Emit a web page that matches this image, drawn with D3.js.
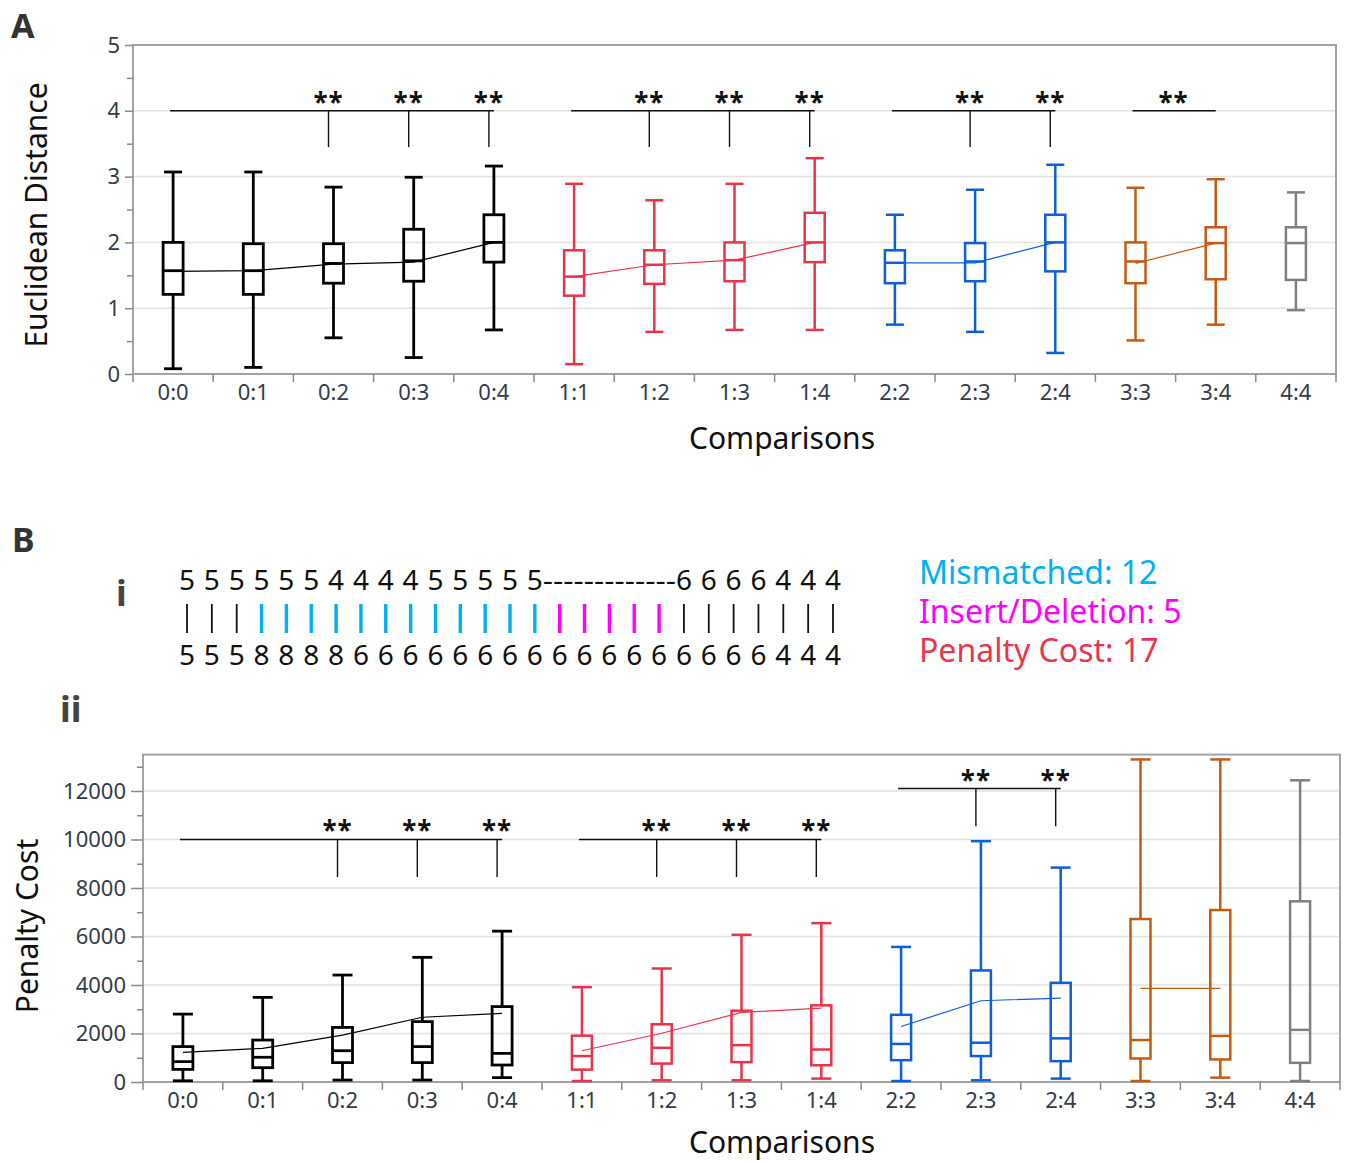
<!DOCTYPE html>
<html>
<head>
<meta charset="utf-8">
<script src="https://cdn.jsdelivr.net/npm/d3@7"></script>
<style>
  body { margin: 0; background: #fff; }
  text { font-family: "Noto Sans", "Open Sans", sans-serif; }
</style>
</head>
<body>
<script>
// categories and groups
var comparisons = ["0:0", "0:1", "0:2", "0:3", "0:4", "1:1", "1:2", "1:3", "1:4", "2:2", "2:3", "2:4", "3:3", "3:4", "4:4"];
var groupOf = [0, 0, 0, 0, 0, 1, 1, 1, 1, 2, 2, 2, 3, 3, 4];
var groupColors = ["#000000", "#e8344a", "#0b5fd8", "#c55a11", "#808080"];

// panel A: euclidean distance (whisker low, q1, median, q3, whisker high, mean)
var eucLow  = [0.08, 0.10, 0.55, 0.25, 0.67, 0.15, 0.64, 0.67, 0.67, 0.75, 0.64, 0.32, 0.51, 0.75, 0.97];
var eucQ1   = [1.21, 1.21, 1.38, 1.41, 1.70, 1.19, 1.37, 1.41, 1.70, 1.38, 1.41, 1.56, 1.38, 1.44, 1.43];
var eucMed  = [1.57, 1.57, 1.68, 1.72, 2.00, 1.48, 1.66, 1.73, 2.00, 1.69, 1.71, 2.00, 1.71, 1.99, 1.99];
var eucQ3   = [2.00, 1.98, 1.98, 2.20, 2.42, 1.88, 1.88, 2.00, 2.45, 1.88, 1.99, 2.42, 2.00, 2.23, 2.23];
var eucHigh = [3.07, 3.07, 2.84, 2.99, 3.16, 2.89, 2.64, 2.89, 3.28, 2.42, 2.80, 3.18, 2.83, 2.96, 2.76];
var eucMean = [1.56, 1.57, 1.67, 1.70, 2.00, 1.48, 1.66, 1.73, 2.00, 1.69, 1.69, 2.00, 1.68, 1.99, null];

// panel B: penalty cost
var penLow  = [50, 50, 80, 80, 180, 40, 70, 70, 140, 40, 70, 140, 40, 180, 40];
var penQ1   = [520, 590, 800, 800, 700, 510, 760, 820, 690, 900, 1070, 860, 970, 930, 790];
var penMed  = [840, 1020, 1290, 1460, 1180, 1070, 1410, 1520, 1340, 1570, 1620, 1800, 1730, 1900, 2150];
var penQ3   = [1460, 1730, 2250, 2490, 3110, 1910, 2380, 2940, 3160, 2770, 4600, 4090, 6720, 7090, 7450];
var penHigh = [2800, 3490, 4410, 5140, 6220, 3910, 4680, 6070, 6550, 5570, 9930, 8840, 13300, 13300, 12440];
var penMean = [1220, 1390, 1930, 2670, 2830, 1290, 2010, 2870, 3050, 2290, 3350, 3460, 3860, 3860, null];

// significance brackets: first..last index, marked indices, bar level, drop level
var sigA = [
  { from: 0, to: 4, marks: [2, 3, 4], level: 4.0, drop: 3.45 },
  { from: 5, to: 8, marks: [6, 7, 8], level: 4.0, drop: 3.45 },
  { from: 9, to: 11, marks: [10, 11], level: 4.0, drop: 3.45 },
  { from: 12, to: 13, marks: [], level: 4.0, drop: 4.0 }
];
var sigB = [
  { from: 0, to: 4, marks: [2, 3, 4], level: 10000, drop: 8450 },
  { from: 5, to: 8, marks: [6, 7, 8], level: 10000, drop: 8450 },
  { from: 9, to: 11, marks: [10, 11], level: 12100, drop: 10550 }
];

// alignment example
var seqTop    = "555555444455555-----6666444";
var seqBottom = "555888866666666666666666444";

var tickColor = "#333d4a";
var svg = d3.select("body").append("svg").attr("width", 1348).attr("height", 1163);

function drawPanel(p) {
  var g = svg.append("g");
  var x = d3.scaleBand().domain(comparisons).range(p.xRange);
  var y = d3.scaleLinear().domain(p.yDomain).range(p.yRange);
  var cx = function (i) { return x(comparisons[i]) + x.bandwidth() / 2; };

  g.selectAll(".grid").data(p.grid).enter().append("line")
    .attr("x1", p.xRange[0]).attr("x2", p.xRange[1])
    .attr("y1", y).attr("y2", y)
    .attr("stroke", "#e2e2e2").attr("stroke-width", 1.5);

  g.append("rect")
    .attr("x", p.xRange[0]).attr("y", p.yRange[1])
    .attr("width", p.xRange[1] - p.xRange[0]).attr("height", p.yRange[0] - p.yRange[1])
    .attr("fill", "none").attr("stroke", "#a3a3a3").attr("stroke-width", 2);

  // y axis
  var ya = g.append("g").attr("transform", "translate(" + p.xRange[0] + ",0)")
    .call(d3.axisLeft(y).tickValues(p.major).tickSize(p.majorLen).tickPadding(p.pad).tickFormat(d3.format("d")));
  ya.select(".domain").remove();
  ya.selectAll("line").attr("stroke", "#8a8a8a").attr("stroke-width", 1.5);
  ya.selectAll("text").attr("font-size", 22).attr("fill", tickColor);

  var ym = g.append("g").attr("transform", "translate(" + p.xRange[0] + ",0)")
    .call(d3.axisLeft(y).tickValues(p.minor).tickSize(6).tickFormat(""));
  ym.select(".domain").remove();
  ym.selectAll("line").attr("stroke", "#8a8a8a").attr("stroke-width", 1.5);

  // x axis: labels at centres, ticks at band edges
  var xa = g.append("g").attr("transform", "translate(0," + p.yRange[0] + ")")
    .call(d3.axisBottom(x).tickSize(0).tickPadding(10));
  xa.select(".domain").remove();
  xa.selectAll("text").attr("font-size", 22).attr("fill", tickColor);

  var edges = comparisons.map(function (c) { return x(c); }).concat([p.xRange[1]]);
  g.selectAll(".xt").data(edges).enter().append("line")
    .attr("x1", function (d) { return d; }).attr("x2", function (d) { return d; })
    .attr("y1", p.yRange[0]).attr("y2", p.yRange[0] + 8)
    .attr("stroke", "#8a8a8a").attr("stroke-width", 1.5);

  // boxes
  var idx = d3.range(comparisons.length);
  var bw = 20, cw = p.capW;
  var box = g.selectAll(".box").data(idx).enter().append("g")
    .attr("stroke", function (i) { return groupColors[groupOf[i]]; })
    .attr("stroke-width", function (i) { return groupOf[i] === 0 ? 2.8 : 2.5; })
    .attr("fill", "none");
  box.append("line")
    .attr("x1", cx).attr("x2", cx)
    .attr("y1", function (i) { return y(p.high[i]); }).attr("y2", function (i) { return y(p.q3[i]); });
  box.append("line")
    .attr("x1", cx).attr("x2", cx)
    .attr("y1", function (i) { return y(p.q1[i]); }).attr("y2", function (i) { return y(p.low[i]); });
  box.append("line")
    .attr("x1", function (i) { return cx(i) - cw / 2; }).attr("x2", function (i) { return cx(i) + cw / 2; })
    .attr("y1", function (i) { return y(p.high[i]); }).attr("y2", function (i) { return y(p.high[i]); });
  box.append("line")
    .attr("x1", function (i) { return cx(i) - cw / 2; }).attr("x2", function (i) { return cx(i) + cw / 2; })
    .attr("y1", function (i) { return y(p.low[i]); }).attr("y2", function (i) { return y(p.low[i]); });
  box.append("rect")
    .attr("x", function (i) { return cx(i) - bw / 2; }).attr("width", bw)
    .attr("y", function (i) { return y(p.q3[i]); })
    .attr("height", function (i) { return y(p.q1[i]) - y(p.q3[i]); });
  box.append("line")
    .attr("x1", function (i) { return cx(i) - bw / 2; }).attr("x2", function (i) { return cx(i) + bw / 2; })
    .attr("y1", function (i) { return y(p.med[i]); }).attr("y2", function (i) { return y(p.med[i]); });

  // mean lines per group
  var line = d3.line().x(function (i) { return cx(i); }).y(function (i) { return y(p.mean[i]); });
  [0, 1, 2, 3].forEach(function (gi) {
    var pts = idx.filter(function (i) { return groupOf[i] === gi && p.mean[i] != null; });
    g.append("path").attr("d", line(pts))
      .attr("fill", "none").attr("stroke", groupColors[gi]).attr("stroke-width", 1.2);
  });

  // significance brackets
  p.sig.forEach(function (s) {
    g.append("line")
      .attr("x1", cx(s.from) - 3).attr("x2", cx(s.to))
      .attr("y1", y(s.level)).attr("y2", y(s.level))
      .attr("stroke", "#111").attr("stroke-width", 1.6);
    s.marks.forEach(function (m) {
      g.append("line")
        .attr("x1", cx(m) - 5).attr("x2", cx(m) - 5)
        .attr("y1", y(s.level)).attr("y2", y(s.drop))
        .attr("stroke", "#111").attr("stroke-width", 1.4);
    });
    var starsAt = s.marks.length ? s.marks.map(function (m) { return cx(m) - 5; }) : [(cx(s.from) + cx(s.to)) / 2 - 2];
    starsAt.forEach(function (sx) {
      g.append("text").attr("x", sx).attr("y", y(s.level) + 1)
        .attr("text-anchor", "middle").attr("font-size", 26).attr("font-weight", "bold")
        .attr("letter-spacing", 1).attr("fill", "#111").text("**");
    });
  });

  g.append("text").attr("x", 782).attr("y", p.xTitleY).attr("text-anchor", "middle")
    .attr("font-size", 30).attr("fill", "#111").text("Comparisons");
  g.append("text")
    .attr("transform", "translate(" + p.yTitleX + "," + p.yTitleY + ") rotate(-90)")
    .attr("text-anchor", "middle").attr("font-size", 30).attr("fill", "#111").text(p.yTitle);
}

drawPanel({
  xRange: [133, 1336], yRange: [374, 45], yDomain: [0, 5],
  major: [0, 1, 2, 3, 4, 5], minor: [0.5, 1.5, 2.5, 3.5, 4.5], grid: [1, 2, 3, 4],
  majorLen: 8, pad: 5, capW: 18,
  low: eucLow, q1: eucQ1, med: eucMed, q3: eucQ3, high: eucHigh, mean: eucMean,
  sig: sigA, xTitleY: 449, yTitle: "Euclidean Distance", yTitleX: 47, yTitleY: 215
});

drawPanel({
  xRange: [143, 1340], yRange: [1082, 754.6], yDomain: [0, 13500],
  major: [0, 2000, 4000, 6000, 8000, 10000, 12000], minor: [1000, 3000, 5000, 7000, 9000, 11000, 13000],
  grid: [2000, 4000, 6000, 8000, 10000, 12000],
  majorLen: 12, pad: 5, capW: 20,
  low: penLow, q1: penQ1, med: penMed, q3: penQ3, high: penHigh, mean: penMean,
  sig: sigB, xTitleY: 1153, yTitle: "Penalty Cost", yTitleX: 38, yTitleY: 926
});

// panel letters
svg.append("text").attr("x", 11).attr("y", 38).attr("font-size", 34).attr("font-weight", "bold").attr("fill", "#333").text("A");
svg.append("text").attr("x", 12).attr("y", 552).attr("font-size", 34).attr("font-weight", "bold").attr("fill", "#333").text("B");
svg.append("text").attr("x", 116).attr("y", 606).attr("font-size", 36).attr("font-weight", "bold").attr("fill", "#444").text("i");
svg.append("text").attr("x", 60).attr("y", 722).attr("font-size", 36).attr("font-weight", "bold").attr("fill", "#444").text("ii");

// alignment
var sx = d3.scalePoint().domain(d3.range(seqTop.length)).range([187, 833]);
var kinds = d3.range(seqTop.length).map(function (i) {
  if (seqTop[i] === "-") return "indel";
  return seqTop[i] === seqBottom[i] ? "match" : "mismatch";
});
var kindColor = { match: "#111", mismatch: "#00b0f0", indel: "#ff00ff" };
var seq = svg.append("g").attr("font-size", 28).attr("fill", "#111");

seq.selectAll(".top").data(d3.range(seqTop.length).filter(function (i) { return seqTop[i] !== "-"; }))
  .enter().append("text").attr("x", sx).attr("y", 590).attr("text-anchor", "middle")
  .text(function (i) { return seqTop[i]; });
var gapStart = seqTop.indexOf("-"), gapEnd = seqTop.lastIndexOf("-");
seq.append("text")
  .attr("x", sx(gapStart - 1) + 8).attr("y", 590)
  .attr("textLength", sx(gapEnd + 1) - sx(gapStart - 1) - 16).attr("lengthAdjust", "spacingAndGlyphs")
  .text("-------------");
seq.selectAll(".bot").data(d3.range(seqBottom.length))
  .enter().append("text").attr("x", sx).attr("y", 665).attr("text-anchor", "middle")
  .text(function (i) { return seqBottom[i]; });
seq.selectAll(".bar").data(d3.range(seqTop.length)).enter().append("line")
  .attr("x1", sx).attr("x2", sx).attr("y1", 604).attr("y2", 633)
  .attr("stroke", function (i) { return kindColor[kinds[i]]; })
  .attr("stroke-width", function (i) { return kinds[i] === "match" ? 1.8 : 3.4; });

var nMis = kinds.filter(function (k) { return k === "mismatch"; }).length;
var nIndel = kinds.filter(function (k) { return k === "indel"; }).length;
var legend = [
  { t: "Mismatched: " + nMis, c: "#00b0f0", y: 584 },
  { t: "Insert/Deletion: " + nIndel, c: "#ff00ff", y: 623 },
  { t: "Penalty Cost: " + (nMis + nIndel), c: "#e8364b", y: 662 }
];
svg.selectAll(".leg").data(legend).enter().append("text")
  .attr("x", 919).attr("y", function (d) { return d.y; })
  .attr("font-size", 32).attr("fill", function (d) { return d.c; })
  .text(function (d) { return d.t; });
</script>
</body>
</html>
